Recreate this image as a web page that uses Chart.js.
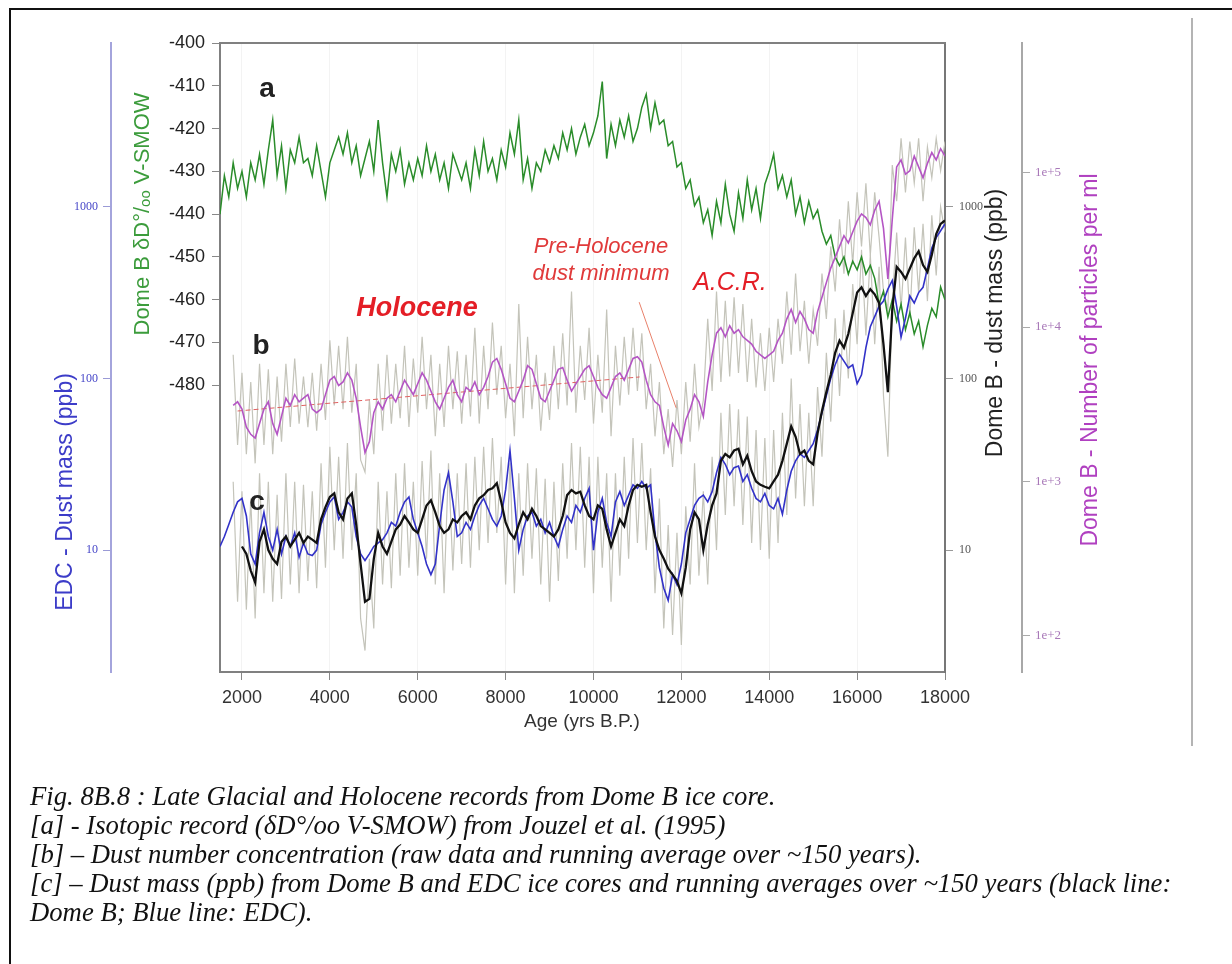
<!DOCTYPE html>
<html>
<head>
<meta charset="utf-8">
<title>Dome B ice core records</title>
<script src="https://cdn.jsdelivr.net/npm/chart.js@4.4.1/dist/chart.umd.min.js"></script>
<style>
  body { margin: 0; background: #fff; }
  #page { position: relative; width: 1232px; height: 964px; overflow: hidden; background: #fff; }
  #chart { position: absolute; left: 0; top: 0; }
  .frame-left { position: absolute; left: 9px; top: 8px; width: 2px; height: 956px; background: #111; }
  .frame-top { position: absolute; left: 9px; top: 8px; width: 1223px; height: 2px; background: #111; }
  .side-rule { position: absolute; left: 1191px; top: 18px; width: 2px; height: 728px; background: #b4b4b4; }
  .caption {
    position: absolute; left: 30px; top: 782px;
    font: italic 26.7px "Liberation Serif", "Times New Roman", serif;
    line-height: 29px; color: #111; white-space: nowrap;
  }
</style>
</head>
<body>
<div id="page">
  <canvas id="chart" width="1232" height="964"></canvas>
  <div class="frame-left"></div>
  <div class="frame-top"></div>
  <div class="side-rule"></div>
  <div class="caption">
    Fig. 8B.8 : Late Glacial and Holocene records from Dome B ice core.<br>
    [a] - Isotopic record (δD°/oo V-SMOW) from Jouzel et al. (1995)<br>
    [b] – Dust number concentration (raw data and running average over ~150 years).<br>
    [c] – Dust mass (ppb) from Dome B and EDC ice cores and running averages over ~150 years (black line:<br>
    Dome B; Blue line: EDC).
  </div>
</div>
<script>
// ages in yrs B.P., every series is sampled every 100 years from its start age
const ageStep = 100;
const ageTicks = [2000, 4000, 6000, 8000, 10000, 12000, 14000, 16000, 18000];
const deltaDTicks = [-480, -470, -460, -450, -440, -430, -420, -410, -400];
const massTicks = [10, 100, 1000];
const numberTicks = [100, 1000, 10000, 100000];
const numberTickLabels = ["1e+2", "1e+3", "1e+4", "1e+5"];

// [a] Dome B deltaD (per mil), from 1500 yrs
const deltaDStart = 1500;
const deltaD = [
  -440, -431, -436, -428, -434,
  -430, -436, -428, -432, -426, -433, -425, -418, -431, -424,
  -434, -425, -428, -422, -428, -427, -431, -424, -430, -436,
  -428, -425, -422, -426, -421, -428, -424, -431, -427, -423,
  -430, -418, -428, -436, -426, -430, -425, -433, -428, -432,
  -427, -431, -424, -430, -426, -432, -428, -434, -426, -429,
  -432, -428, -434, -425, -431, -423, -430, -427, -432, -425,
  -429, -421, -426, -418, -432, -427, -434, -428, -430, -425,
  -428, -424, -427, -421, -425, -420, -426, -422, -419, -424,
  -421, -417, -409, -427, -419, -424, -418, -422, -417, -423,
  -420, -415, -412, -420, -414, -419, -418, -424, -423, -429,
  -428, -434, -432, -438, -436, -442, -439, -445, -437, -442,
  -433, -440, -444, -435, -441, -432, -439, -434, -441, -433,
  -430, -426, -434, -431, -436, -432, -440, -436, -442, -437,
  -441, -439, -444, -447, -445, -450, -452, -450, -454, -451,
  -453, -450, -454, -452, -455, -461, -458, -464, -460, -465,
  -461, -467, -463, -468, -465, -471, -466, -462, -464, -457,
  -460
];

// [b] Dome B dust number (particles per ml), from 1800 yrs
const numberStart = 1800;
const numberRaw = [
  6610, 1720,
  5050, 1500, 4410, 1310, 5780, 1720, 5320, 1500, 4780, 1810,
  5780, 2250, 6260, 2370, 4780, 2250, 5050, 2130, 5780, 2500,
  8200, 3110, 7560, 2940, 8650, 2790, 5780, 1380, 1150, 3370,
  1500, 5780, 2130, 6610, 2370, 5780, 2570, 7560, 2250, 6260,
  2790, 8650, 2940, 6610, 1960, 5780, 2250, 7560, 2940, 6970,
  2370, 6610, 2640, 9900, 2370, 7560, 2940, 10700, 3650, 7560,
  2570, 5780, 1960, 14100, 2570, 8650, 2940, 6610, 2130, 5050,
  2500, 7560, 2940, 9130, 3110, 17000, 2790, 7560, 3370, 9900,
  2370, 6610, 2790, 13000, 1960, 7560, 3110, 8650, 3650, 9900,
  3850, 9130, 2940, 5780, 1960, 4410, 1500, 2940, 1240, 3370,
  1500, 4410, 1810, 5780, 2250, 3370, 11300, 3850, 17000, 4410,
  14800, 4780, 15600, 5050, 14100, 4410, 11300, 4070, 9130, 3850,
  9900, 4410, 11300, 5780, 17000, 6610, 22200, 6970, 14800, 5780,
  13000, 7560, 22200, 11300, 33300, 17000, 49900, 22200, 65300, 25400,
  74600, 33300, 85500, 29100, 74600, 38100, 17000, 13000, 112000, 65300,
  167000, 74600, 159000, 85500, 167000, 65300, 147000, 92700, 167000, 103000,
  159000
];
const numberMean = [
  3110, 3280,
  2940, 2250, 2020, 1910, 2370, 2940, 3280, 2370, 2020, 2640,
  3460, 3110, 3650, 3280, 3460, 3650, 2940, 2790, 2940, 3650,
  4530, 4780, 4180, 4410, 5050, 4530, 3460, 2250, 1540, 1810,
  2790, 3280, 2940, 3460, 3650, 3280, 3850, 4530, 4070, 3650,
  4290, 5050, 4530, 3850, 3280, 2940, 3460, 4070, 4530, 3650,
  3280, 4070, 3850, 4410, 3650, 4070, 4780, 5930, 6260, 5320,
  4290, 3460, 3280, 3850, 4530, 5620, 5320, 4290, 3460, 3280,
  3850, 4530, 5320, 5470, 4530, 3850, 4290, 4780, 5320, 5620,
  4780, 4070, 3650, 3460, 4070, 4780, 5050, 4530, 5320, 6260,
  6430, 5930, 4530, 3650, 3280, 3110, 2250, 1720, 2370, 2130,
  1810, 2500, 2940, 3650, 3280, 2640, 4410, 6610, 9130, 9900,
  8650, 10200, 9130, 9630, 8650, 8200, 7760, 6970, 6610, 6260,
  6610, 6970, 8200, 9130, 11300, 13000, 10700, 12600, 11300, 9630,
  9130, 12600, 15600, 19400, 24100, 28300, 33300, 39100, 35100, 41300,
  48500, 54100, 51200, 45900, 57000, 65300, 43600, 20500, 49900, 109000,
  121000, 97700, 103000, 128000, 109000, 92700, 115000, 135000, 121000, 143000,
  128000
];
// red dashed Holocene trend and pointer to the pre-Holocene minimum
const numberTrendAge = [1900, 11050];
const numberTrend = [2860, 4750];
const pointerAge = [11040, 11880];
const pointerNumber = [14500, 3000];

// [c] dust mass (ppb)
const massRawStart = 1800;
const massRaw = [
  25, 5.0,
  22, 4.5, 20, 4.0, 28, 5.6, 25, 5.0, 21, 5.2,
  28, 6.3, 25, 5.6, 24, 6.6, 22, 6.0, 32, 7.9,
  40, 10, 35, 8.9, 42, 10, 28, 4.0, 2.6, 8.9,
  3.5, 25, 6.3, 22, 6.0, 28, 7.1, 32, 7.9, 25,
  7.1, 33, 8.9, 38, 6.3, 28, 5.6, 32, 7.6, 28,
  8.3, 32, 7.9, 35, 10, 40, 11, 45, 12.6, 35,
  6.3, 32, 5.6, 28, 7.1, 32, 8.9, 30, 6.3, 26,
  5.0, 25, 6.6, 32, 8.9, 42, 10, 40, 7.9, 35,
  5.6, 35, 7.9, 28, 5.0, 28, 7.1, 35, 8.9, 45,
  11, 42, 10, 30, 5.6, 20, 3.5, 14, 3.2, 12.6,
  2.8, 18, 6.3, 32, 7.1, 22, 6.3, 35, 10, 63,
  16, 71, 18, 66, 14, 60, 11, 50, 10, 45,
  8.9, 50, 11, 63, 16, 100, 20, 71, 18, 63,
  18, 89, 35, 141, 56, 224, 79, 251, 100, 355,
  158, 562, 178, 525, 158, 447, 79, 35, 282, 708,
  251, 661, 224, 759, 316, 794, 282, 891, 398, 1000,
  708
];
const domeBMassStart = 2000;
const domeBMass = [
  10.5, 9.5, 7.6, 6.5, 11.2, 13.2, 10, 8.9, 8.3, 11.2,
  12, 10.5, 11.5, 12.6, 11, 12, 11.5, 11, 15.1, 17.8,
  20.4, 21.4, 16.6, 15.1, 20, 21.4, 14.1, 8.3, 5.0, 5.2,
  8.9, 12.6, 10.5, 9.5, 11.2, 13.2, 14.1, 15.8, 14.5, 13.2,
  12.6, 15.1, 18.2, 19.5, 16.6, 13.8, 12.6, 13.2, 15.1, 14.5,
  15.8, 16.6, 15.1, 18.2, 20, 20.9, 22.4, 22.9, 24.5, 19.1,
  14.5, 12.6, 11.7, 14.1, 16.6, 15.1, 17.4, 15.8, 13.8, 13.2,
  12.6, 12, 13.2, 15.8, 20.9, 22.4, 21.4, 21.9, 18.2, 15.8,
  15.1, 18.2, 17.4, 13.2, 10.5, 12.6, 15.1, 13.8, 18.2, 22.4,
  24, 23.4, 24, 16.6, 12, 10, 8.9, 7.8, 7.2, 6.6,
  5.6, 7.9, 13.2, 16.6, 15.1, 10, 14.1, 18.2, 21.4, 33.1,
  36.3, 34.7, 38, 38.9, 31.6, 35.5, 28.8, 25.1, 24, 23.4,
  22.9, 25.1, 27.5, 33.1, 41.7, 52.5, 45.7, 36.3, 38, 33.1,
  31.6, 47.9, 64.6, 83.2, 105, 141, 166, 151, 182, 240,
  316, 339, 302, 331, 309, 275, 158, 83.2, 251, 447,
  417, 380, 437, 501, 550, 457, 417, 525, 692, 794,
  832
];
const edcMassStart = 1500;
const edcMass = [
  10.5, 12, 14.1, 16.6, 19.1,
  20, 15.8, 9.5, 8.3, 12.6, 16.6, 12, 10, 13.2, 9.5,
  12, 10.5, 12.6, 9.1, 11, 9.5, 9.3, 10, 14.1, 16.6,
  19.1, 20.4, 15.1, 16.6, 19.1, 17.8, 12, 9.5, 8.7, 9.5,
  10.5, 11, 11.5, 12.6, 14.5, 13.8, 16.6, 19.1, 20.4, 15.1,
  12.6, 10.5, 8.3, 7.2, 8.3, 14.1, 22.4, 28.2, 19.1, 12,
  12.6, 14.5, 13.2, 15.8, 18.2, 20, 17.4, 15.1, 13.8, 15.8,
  22.4, 38, 20, 10, 13.2, 15.8, 16.6, 13.8, 15.1, 12.6,
  14.5, 12, 10.5, 13.2, 15.8, 14.5, 18.2, 16.6, 20, 22.9,
  10, 16.6, 20, 14.5, 12, 19.1, 21.9, 18.2, 20.9, 24,
  22.9, 25.1, 22.9, 24, 12.6, 7.9, 6.0, 5.1, 7.2, 6.3,
  8.3, 12.6, 15.1, 18.2, 20, 20.9, 19.1, 21.9, 28.2, 34.7,
  31.6, 27.5, 30.2, 30.9, 25.1, 27.5, 22.9, 20, 19.1, 21.4,
  18.2, 17.4, 20, 16.2, 22.4, 28.8, 33.1, 36.3, 34.7, 38,
  41.7, 50.1, 63.1, 79.4, 100, 120, 138, 126, 115, 120,
  93.3, 105, 151, 200, 229, 263, 282, 331, 372, 263,
  174, 224, 302, 275, 316, 339, 437, 575, 661, 724,
  794
];

function series(start, values) {
  return values.map((v, i) => ({ x: start + i * ageStep, y: v }));
}
function pairs(ages, values) {
  return ages.map((a, i) => ({ x: a, y: values[i] }));
}
function fixWidth(w) {
  return (scale) => { scale.width = w; };
}

const GREY_RAW = "#c4c4ba";

const figText = {
  id: "figText",
  afterDraw(chart) {
    const ctx = chart.ctx;
    const area = chart.chartArea;
    ctx.save();
    // top edge of the plot box
    ctx.strokeStyle = "#808080";
    ctx.lineWidth = 2;
    ctx.beginPath();
    ctx.moveTo(area.left - 1, area.top);
    ctx.lineTo(area.right + 1, area.top);
    ctx.stroke();

    const put = (str, x, y, font, color, rot) => {
      ctx.save();
      ctx.translate(x, y);
      if (rot) ctx.rotate(-Math.PI / 2);
      ctx.font = font;
      ctx.fillStyle = color;
      ctx.textAlign = "center";
      ctx.textBaseline = "middle";
      ctx.fillText(str, 0, 0);
      ctx.restore();
    };
    const sans = '"Liberation Sans", Arial, sans-serif';

    // axis titles
    put("Dome B δD°/ₒₒ V-SMOW", 143, 214, "22px " + sans, "#3c9c3c", true);
    put("EDC - Dust mass (ppb)", 66, 492, "23px " + sans, "#3c3cc8", true);
    put("Dome B - dust mass (ppb)", 996, 323, "23px " + sans, "#222", true);
    put("Dome B - Number of particles per ml", 1091, 360, "23px " + sans, "#b040c0", true);
    put("Age (yrs B.P.)", 582, 722, "19px " + sans, "#333", false);

    // panel letters and annotations
    put("a", 267, 89, "bold 28px " + sans, "#222", false);
    put("b", 261, 346, "bold 28px " + sans, "#222", false);
    put("c", 257, 502, "bold 28px " + sans, "#222", false);
    put("Holocene", 417, 309, "italic bold 27px " + sans, "#e41e26", false);
    put("Pre-Holocene", 601, 247, "italic 22px " + sans, "#e03a3a", false);
    put("dust minimum", 601, 274, "italic 22px " + sans, "#e03a3a", false);
    put("A.C.R.", 730, 283, "italic 25px " + sans, "#e41e26", false);
    ctx.restore();
  }
};

Chart.defaults.font.family = '"Liberation Sans", Arial, sans-serif';

new Chart(document.getElementById("chart"), {
  type: "line",
  data: {
    datasets: [
      { label: "Dome B dust mass (running mean)", data: series(domeBMassStart, domeBMass), yAxisID: "yMass",
        borderColor: "#111111", borderWidth: 2.3 },
      { label: "EDC dust mass (running mean)", data: series(edcMassStart, edcMass), yAxisID: "yEdc",
        borderColor: "#3232c8", borderWidth: 1.6 },
      { label: "Dust number (running mean)", data: series(numberStart, numberMean), yAxisID: "yNumber",
        borderColor: "#b455c4", borderWidth: 1.6 },
      { label: "deltaD", data: series(deltaDStart, deltaD), yAxisID: "yDeltaD",
        borderColor: "#2a8c2a", borderWidth: 1.5 },
      { label: "Holocene trend", data: pairs(numberTrendAge, numberTrend), yAxisID: "yNumber",
        borderColor: "#e06060", borderWidth: 1, borderDash: [5, 3] },
      { label: "pointer", data: pairs(pointerAge, pointerNumber), yAxisID: "yNumber",
        borderColor: "#e8806a", borderWidth: 1 },
      { label: "Dust number (raw)", data: series(numberStart, numberRaw), yAxisID: "yNumber",
        borderColor: GREY_RAW, borderWidth: 1.2 },
      { label: "Dust mass (raw)", data: series(massRawStart, massRaw), yAxisID: "yMass",
        borderColor: GREY_RAW, borderWidth: 1.2 }
    ]
  },
  options: {
    responsive: false,
    animation: false,
    devicePixelRatio: 1,
    elements: { point: { radius: 0 }, line: { tension: 0 } },
    layout: { padding: { left: 20, top: 43, right: 122, bottom: 232 } },
    plugins: { legend: { display: false }, tooltip: { enabled: false } },
    scales: {
      x: {
        type: "linear", position: "bottom", min: 1500, max: 18000,
        afterBuildTicks: (s) => { s.ticks = ageTicks.map((v) => ({ value: v })); },
        afterFit: (s) => { s.height = 60; },
        grid: { color: "#f3f3f3", tickColor: "#888", tickLength: 8 },
        border: { color: "#808080", width: 2 },
        ticks: { color: "#333", font: { size: 18 }, padding: 7, maxRotation: 0,
          callback: (v) => String(v) }
      },
      yEdc: {
        type: "logarithmic", position: "left", weight: 1, min: 1.95, max: 8983,
        afterBuildTicks: (s) => { s.ticks = massTicks.map((v) => ({ value: v })); },
        afterFit: fixWidth(91),
        grid: { drawOnChartArea: false, tickColor: "#9a9ad6", tickLength: 8 },
        border: { color: "#a4a4dc", width: 2 },
        ticks: { color: "#4646c8", font: { size: 12, family: '"Liberation Serif", serif' }, padding: 5,
          callback: (v) => String(v) }
      },
      yDeltaD: {
        type: "linear", position: "left", weight: 0, min: -547, max: -400,
        afterBuildTicks: (s) => { s.ticks = deltaDTicks.map((v) => ({ value: v })); },
        afterFit: fixWidth(109),
        grid: { drawOnChartArea: false, tickColor: "#888", tickLength: 8 },
        border: { color: "#808080", width: 2 },
        ticks: { color: "#222", font: { size: 18 }, padding: 7 }
      },
      yMass: {
        type: "logarithmic", position: "right", weight: 0, min: 1.95, max: 8983,
        afterBuildTicks: (s) => { s.ticks = massTicks.map((v) => ({ value: v })); },
        afterFit: fixWidth(77),
        grid: { drawOnChartArea: false, tickColor: "#999", tickLength: 8 },
        border: { color: "#777", width: 2 },
        ticks: { color: "#555", font: { size: 12, family: '"Liberation Serif", serif' }, padding: 6,
          callback: (v) => String(v) }
      },
      yNumber: {
        type: "logarithmic", position: "right", weight: 1, min: 58.3, max: 692000,
        afterBuildTicks: (s) => { s.ticks = numberTicks.map((v) => ({ value: v })); },
        afterFit: fixWidth(88),
        grid: { drawOnChartArea: false, tickColor: "#aaa", tickLength: 8 },
        border: { color: "#a8a8a8", width: 2 },
        ticks: { color: "#a878b8", font: { size: 13, family: '"Liberation Serif", serif' }, padding: 5,
          callback: (v, i) => numberTickLabels[i] }
      }
    }
  },
  plugins: [figText]
});
</script>
</body>
</html>
